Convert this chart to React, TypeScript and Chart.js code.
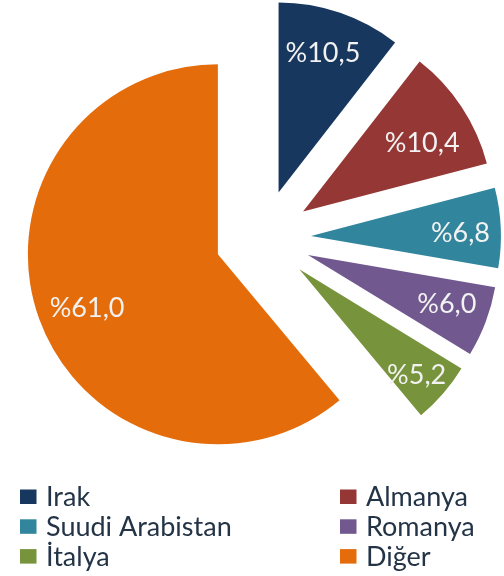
import React, { useEffect, useRef } from "react";
import { Chart, registerables } from "chart.js";

Chart.register(...registerables);

const categories = ["Irak", "Almanya", "Suudi Arabistan", "Romanya", "İtalya", "Diğer"];
const shares = [10.5, 10.4, 6.8, 6.0, 5.2, 61.0];
const valueLabels = ["%10,5", "%10,4", "%6,8", "%6,0", "%5,2", "%61,0"];

const COLORS = ["#17375E", "#953735", "#31859C", "#71588F", "#77933C", "#E46C0A"];
const EXPLODE = 48;
const RADIUS = 190;
// [radius fraction, angular fraction within slice] for value labels
const LABEL_POS = [
  [0.768, 0.468],
  [0.723, 0.595],
  [0.787, 0.55],
  [0.776, 0.453],
  [0.832, 0.568],
  [0.744, 0.489],
];
const FONT = "Lato, 'Open Sans', sans-serif";

const explodePlugin = {
  id: "explode",
  beforeDatasetDraw(chart: any, args: any) {
    const ctx = chart.ctx;
    args.meta.data.forEach((arc: any) => {
      const half = (arc.startAngle + arc.endAngle) / 2;
      ctx.save();
      ctx.translate(Math.cos(half) * EXPLODE, Math.sin(half) * EXPLODE);
      arc.draw(ctx);
      ctx.restore();
    });
    return false;
  },
  afterDatasetsDraw(chart: any) {
    const ctx = chart.ctx;
    const meta = chart.getDatasetMeta(0);
    ctx.save();
    ctx.fillStyle = "#F2F2F2";
    ctx.font = `27px ${FONT}`;
    ctx.textAlign = "center";
    ctx.textBaseline = "middle";
    meta.data.forEach((arc: any, i: number) => {
      const half = (arc.startAngle + arc.endAngle) / 2;
      const [rf, af] = LABEL_POS[i];
      const a = arc.startAngle + (arc.endAngle - arc.startAngle) * af;
      const ax = arc.x + Math.cos(half) * EXPLODE;
      const ay = arc.y + Math.sin(half) * EXPLODE;
      const r = arc.outerRadius * rf;
      ctx.fillText(valueLabels[i], ax + Math.cos(a) * r, ay + Math.sin(a) * r);
    });
    ctx.restore();
  },
};

const legendPlugin = {
  id: "gridLegend",
  afterDraw(chart: any) {
    const ctx = chart.ctx;
    const labels = chart.data.labels as string[];
    const colors = chart.data.datasets[0].backgroundColor as string[];
    ctx.save();
    ctx.font = `27px ${FONT}`;
    ctx.textBaseline = "alphabetic";
    ctx.textAlign = "left";
    labels.forEach((lab, i) => {
      const col = i % 2;
      const row = Math.floor(i / 2);
      const bx = col === 0 ? 20 : 340;
      const by = 489.5 + row * 29.8;
      ctx.fillStyle = colors[i];
      ctx.fillRect(bx, by, 16.5, 14.5);
      ctx.fillStyle = "#243447";
      ctx.fillText(lab, bx + 26, by + 16.5);
    });
    ctx.restore();
  },
};

export default function App() {
  const ref = useRef<HTMLCanvasElement>(null);
  useEffect(() => {
    if (!ref.current) return;
    const chart = new Chart(ref.current, {
      type: "pie",
      data: {
        labels: categories,
        datasets: [
          {
            data: shares,
            backgroundColor: COLORS,
            borderWidth: 0,
            radius: RADIUS,
          } as any,
        ],
      },
      options: {
        animation: false,
        responsive: true,
        maintainAspectRatio: false,
        layout: { padding: { left: 22, right: 0, top: 0, bottom: 100 } },
        plugins: {
          legend: { display: false },
          tooltip: { enabled: false },
        },
      },
      plugins: [explodePlugin, legendPlugin],
    });
    return () => chart.destroy();
  }, []);
  return (
    <div style={{ position: "fixed", left: 0, top: 0, width: 504, height: 576, background: "#fff" }}>
      <canvas ref={ref} />
    </div>
  );
}
